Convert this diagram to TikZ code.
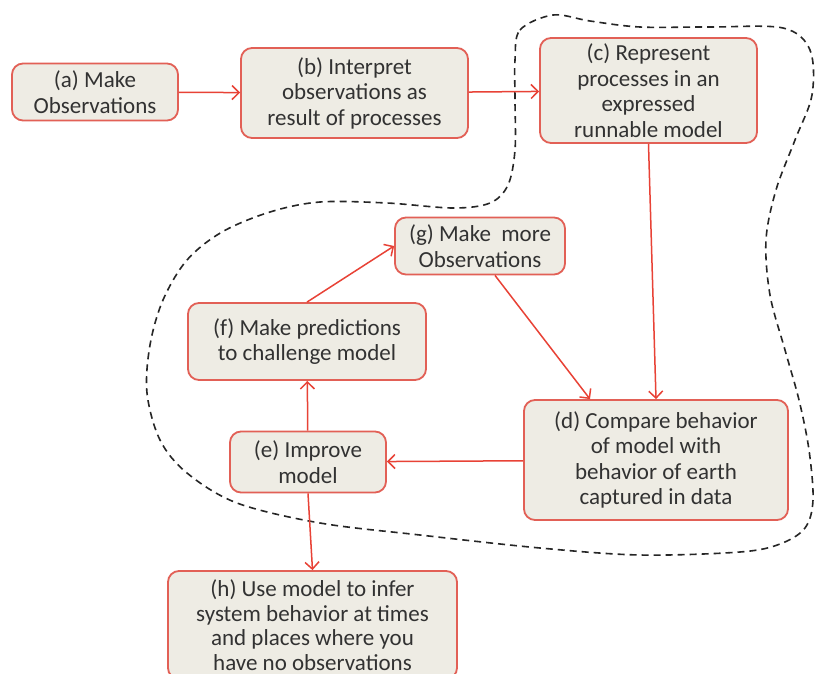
\documentclass[tikz,border=0pt]{standalone}
\usepackage{fontspec}
\setmainfont{Carlito}
\usetikzlibrary{arrows.meta}
\definecolor{boxred}{RGB}{226,96,86}
\definecolor{linered}{RGB}{232,66,54}
\definecolor{boxfill}{RGB}{238,236,228}
\definecolor{txt}{RGB}{50,50,50}
\begin{document}
\begin{tikzpicture}[x=1pt,y=-1pt,
  stepbox/.style={draw=boxred, line width=1.8pt, fill=boxfill, rounded corners=11pt,
    align=center, inner sep=0pt, text=txt, font=\fontsize{23}{25.5}\selectfont},
  flow/.style={draw=linered, line width=1.5pt,
    -{Straight Barb[length=7pt,width=14pt,line width=1.5pt]}},
  blob/.style={draw=black!85, line width=1.6pt, dash pattern=on 7pt off 5pt}]
\clip (0,0) rectangle (815,673);
\fill[white] (0,0) rectangle (815,673);
% dashed region
\draw[blob] plot[smooth cycle, tension=0.55] coordinates {
  (515,60) (520,30) (553,15) (590,21) (640,27) (710,27) (783,28) (810,50)
  (812,95) (795,140) (776,190) (766,240) (770,295) (785,350) (799,400)
  (809,450) (813,500) (805,528) (780,544) (740,552) (640,555) (540,548)
  (420,535) (320,523) (237,503) (187,473) (160,440) (147,393) (150,345)
  (163,300) (187,260) (222,232) (270,212) (320,202) (387,203) (453,208)
  (490,203) (508,185) (515,150) (515,100)};
% boxes
\node[stepbox, minimum width=166pt, minimum height=57pt] (a) at (95,92) {(a) Make\\Observations};
\node[stepbox, minimum width=227pt, minimum height=90pt] (b) at (354.5,93) {(b) Interpret\\observations as\\result of processes};
\node[stepbox, minimum width=217pt, minimum height=105pt] (c) at (648.5,90.5) {(c) Represent\\processes in an\\expressed\\runnable model};
\node[stepbox, minimum width=170pt, minimum height=57pt] (g) at (480,246) {(g) Make~ more\\Observations};
\node[stepbox, minimum width=238pt, minimum height=77pt] (f) at (307,341.5) {(f) Make predictions\\to challenge model};
\node[stepbox, minimum width=264pt, minimum height=120pt] (d) at (656,460) {(d) Compare behavior\\of model with\\behavior of earth\\captured in data};
\node[stepbox, minimum width=156pt, minimum height=61pt] (e) at (308,462) {(e) Improve\\model};
\node[stepbox, minimum width=289pt, minimum height=108pt, text depth=0pt,
  font=\fontsize{23}{24.5}\selectfont] (h) at (312.5,625) {(h) Use model to infer\\system behavior at times\\and places where you\\have no observations};
% connectors
\draw[flow] (a) -- (b);
\draw[flow] (b) -- (c);
\draw[flow] (c.south) -- (d.north);
\draw[flow] (g.south -| 495,0) -- (d.north -| 590,0);
\draw[flow] (d) -- (e);
\draw[flow] (e) -- (f);
\draw[flow] (f.north) -- (g.west);
\draw[flow] (e.south) -- (h.north);
\end{tikzpicture}
\end{document}
